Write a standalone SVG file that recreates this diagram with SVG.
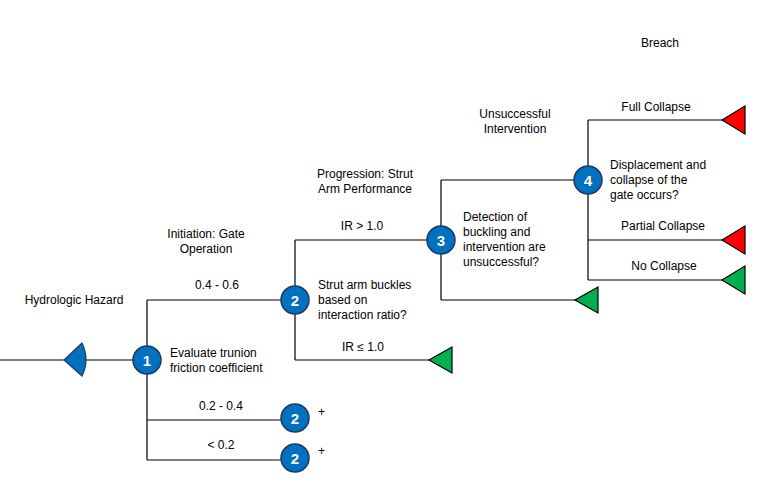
<svg xmlns="http://www.w3.org/2000/svg" width="758" height="482" viewBox="0 0 758 482">
<style>
text{font-family:"Liberation Sans",Arial,sans-serif;font-size:12px;fill:#000}
.c{text-anchor:middle}
.ln{stroke:#000;stroke-width:1.2;fill:none}
.nd circle{fill:#0070C0;stroke:#1F3864;stroke-width:1.5}
.nd text{fill:#fff;font-weight:bold;font-size:15px;text-anchor:middle}
.g{fill:#00B050;stroke:#000;stroke-width:1.2}
.r{fill:#FF0000;stroke:#000;stroke-width:1.2}
</style>
<rect width="758" height="482" fill="#fff"/>
<g id="connectors" class="ln">
<path d="M0 360H147M147 300V460M147 300H295M147 420H295M147 460H295"/>
<path d="M295 240V360M295 240H441M295 360H430"/>
<path d="M441 180V300M441 180H588M441 300H577"/>
<path d="M588 120V280M588 120H724M588 240H724M588 280H724"/>
</g>
<g id="hazard"><path d="M64 360L82 343Q90 360 82 376Z" fill="#0070C0" stroke="#1F3864" stroke-width="1.2"/></g>
<g id="node1" class="nd"><circle cx="147" cy="360" r="14"/><text x="147" y="366">1</text></g>
<g id="node2a" class="nd"><circle cx="295" cy="300" r="14"/><text x="295" y="306">2</text></g>
<g id="node2b" class="nd"><circle cx="295" cy="418" r="14"/><text x="295" y="424">2</text></g>
<g id="node2c" class="nd"><circle cx="295" cy="458" r="14"/><text x="295" y="464">2</text></g>
<g id="node3" class="nd"><circle cx="441" cy="240" r="14"/><text x="441" y="246">3</text></g>
<g id="node4" class="nd"><circle cx="588" cy="180" r="14"/><text x="588" y="186">4</text></g>
<g id="end1"><path class="g" d="M429 360L452 347V373Z"/></g>
<g id="end2"><path class="g" d="M575 300L598 287V313Z"/></g>
<g id="end3"><path class="r" d="M722 120L745 106V134Z"/></g>
<g id="end4"><path class="r" d="M722 240L745 226V254Z"/></g>
<g id="end5"><path class="g" d="M722 280L745 266V294Z"/></g>
<g id="labels">
<text x="74" y="304" class="c">Hydrologic Hazard</text>
<text x="170" y="357">Evaluate  trunion</text>
<text x="170" y="372">friction  coefficient</text>
<text x="217" y="289" class="c">0.4 - 0.6</text>
<text x="221" y="410" class="c">0.2 - 0.4</text>
<text x="221" y="449" class="c">&lt; 0.2</text>
<text x="318" y="416">+</text>
<text x="318" y="455">+</text>
<text x="206" y="238" class="c">Initiation: Gate</text>
<text x="206" y="253" class="c">Operation</text>
<text x="318" y="289">Strut arm buckles</text>
<text x="318" y="304">based on</text>
<text x="318" y="319">interaction ratio?</text>
<text x="362" y="230" class="c">IR &gt; 1.0</text>
<text x="363" y="351" class="c">IR ≤ 1.0</text>
<text x="365" y="178" class="c">Progression:  Strut</text>
<text x="365" y="193" class="c">Arm Performance</text>
<text x="463" y="221">Detection of</text>
<text x="463" y="236">buckling and</text>
<text x="463" y="251">intervention  are</text>
<text x="463" y="266">unsuccessful?</text>
<text x="515" y="118" class="c">Unsuccessful</text>
<text x="515" y="133" class="c">Intervention</text>
<text x="610" y="169">Displacement and</text>
<text x="610" y="184">collapse of the</text>
<text x="610" y="199">gate occurs?</text>
<text x="656" y="111" class="c">Full Collapse</text>
<text x="663" y="230" class="c">Partial Collapse</text>
<text x="664" y="270" class="c">No Collapse</text>
<text x="660" y="47" class="c">Breach</text>
</g>
</svg>
